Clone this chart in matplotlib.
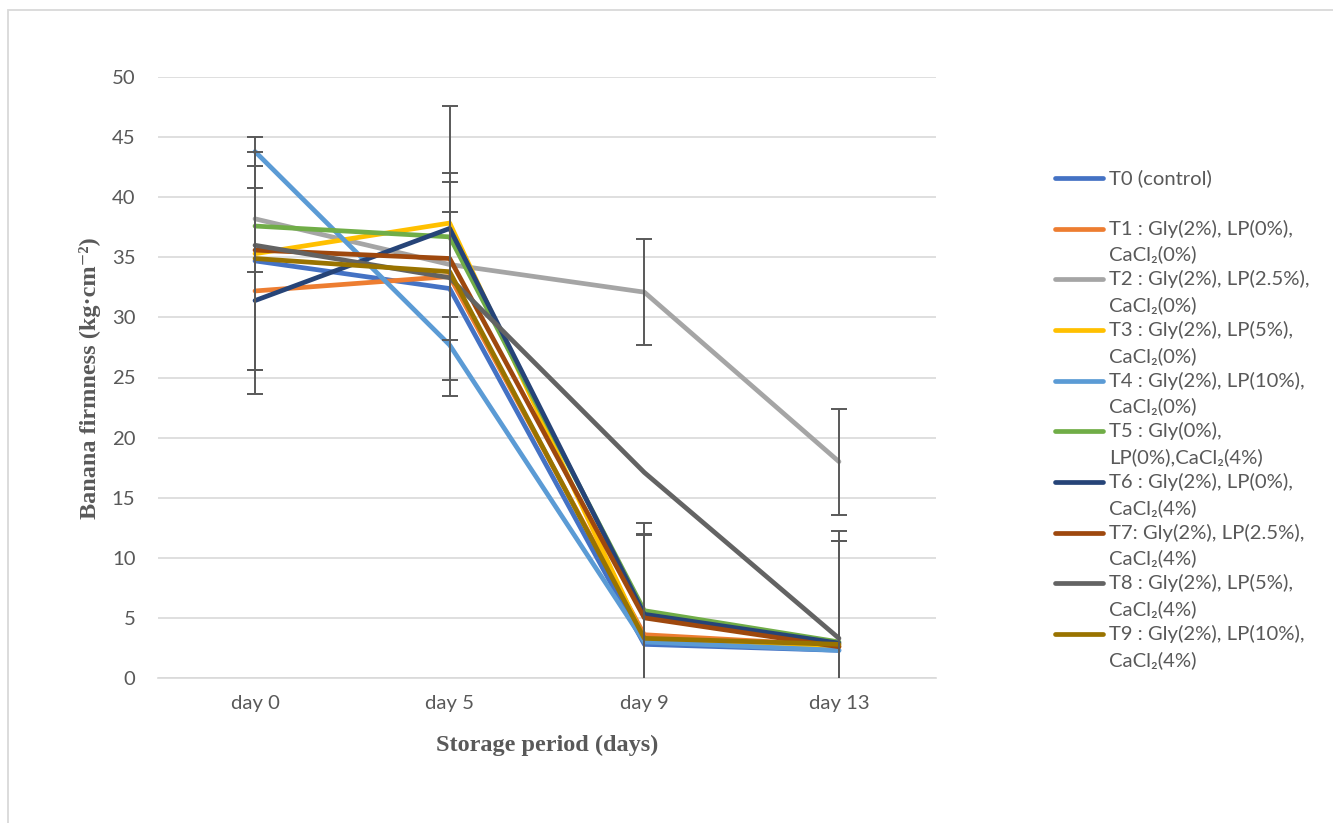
import matplotlib
matplotlib.use("Agg")
import matplotlib.pyplot as plt
from matplotlib.lines import Line2D
from matplotlib.patches import Rectangle

# Storage days and firmness (kg·cm⁻²) per treatment
days = ["day 0", "day 5", "day 9", "day 13"]

t0 = [34.7, 32.4, 2.8, 2.3]
t1 = [32.2, 33.4, 3.6, 2.7]
t2 = [38.2, 34.4, 32.1, 18.0]
t3 = [35.3, 37.85, 3.2, 2.6]
t4 = [43.8, 27.7, 3.0, 2.3]
t5 = [37.6, 36.7, 5.6, 3.0]
t6 = [31.4, 37.4, 5.3, 2.9]
t7 = [35.6, 34.9, 5.0, 2.6]
t8 = [36.0, 33.3, 17.1, 3.3]
t9 = [34.9, 33.8, 3.3, 2.8]

# Error bars (± kg·cm⁻²) reported for selected treatments
err_t0 = [9.1, 8.9, 9.1, 9.1]
err_t1 = [8.6, 8.6, 8.4, 8.7]
err_t2 = [4.4, 4.4, 4.4, 4.4]
err_t3 = [9.7, 9.75, 9.7, 9.6]

labels = [
    "T0 (control)\n",
    "T1 : Gly(2%), LP(0%),\nCaCl₂(0%)",
    "T2 : Gly(2%), LP(2.5%),\nCaCl₂(0%)",
    "T3 : Gly(2%), LP(5%),\nCaCl₂(0%)",
    "T4 : Gly(2%), LP(10%),\nCaCl₂(0%)",
    "T5 : Gly(0%),\nLP(0%),CaCl₂(4%)",
    "T6 : Gly(2%), LP(0%),\nCaCl₂(4%)",
    "T7: Gly(2%), LP(2.5%),\nCaCl₂(4%)",
    "T8 : Gly(2%), LP(5%),\nCaCl₂(4%)",
    "T9 : Gly(2%), LP(10%),\nCaCl₂(4%)",
]

series = [t0, t1, t2, t3, t4, t5, t6, t7, t8, t9]
errors = {0: err_t0, 1: err_t1, 2: err_t2, 3: err_t3}
colors = ["#4472C4", "#ED7D31", "#A5A5A5", "#FFC000", "#5B9BD5",
          "#70AD47", "#264478", "#9E480E", "#636363", "#997300"]

text_gray = "#595959"
sans = ["Lato", "DejaVu Sans"]
serif = ["Liberation Serif", "DejaVu Serif"]
fs_sans = 14.6
fs_title = 17.5

W, H = 1333, 823
fig = plt.figure(figsize=(W / 100, H / 100), dpi=100)

def fx(px):
    return px / W

def fy(py):
    return 1 - py / H

ax = fig.add_axes([fx(157.7), fy(678), fx(936.3) - fx(157.7), fy(77) - fy(678)])

x = list(range(len(days)))
for i, (vals, c) in enumerate(zip(series, colors)):
    ax.plot(x, vals, color=c, lw=3.4, solid_capstyle="round", zorder=3 + i * 0.01)

for i, err in errors.items():
    ax.errorbar(x, series[i], yerr=err, fmt="none", ecolor="#595959",
                elinewidth=1.4, capsize=5.5, capthick=1.4, zorder=5)

ax.set_xlim(-0.5, 3.5)
ax.set_ylim(0, 50)
ax.set_yticks(range(0, 51, 5))
ax.set_xticks(x)
ax.set_xticklabels(days)
ax.yaxis.grid(True, color="#D9D9D9", lw=1.2, zorder=0)
ax.set_axisbelow(True)
for s in ["top", "right", "left"]:
    ax.spines[s].set_visible(False)
ax.spines["bottom"].set_color("#D9D9D9")
ax.spines["bottom"].set_linewidth(1.2)
ax.tick_params(axis="both", length=0, colors=text_gray, labelsize=fs_sans)
ax.tick_params(axis="y", pad=16)
ax.tick_params(axis="x", pad=12)
for lab in ax.get_xticklabels() + ax.get_yticklabels():
    lab.set_family(sans)

fig.text(fx(547), fy(745), "Storage period (days)", ha="center", va="center",
         family=serif, fontweight="bold", fontsize=fs_title, color=text_gray)
fig.text(fx(90), fy(378), "Banana firmness (kg·cm⁻²)", ha="center", va="center",
         rotation=90, family=serif, fontweight="bold", fontsize=fs_title, color=text_gray)

# Legend drawn as two-line entries with the key aligned to the first line
row0, step, line_gap = 178, 50.67, 26
for i, (lab, c) in enumerate(zip(labels, colors)):
    yy = row0 + i * step
    fig.add_artist(Line2D([fx(1055), fx(1103)], [fy(yy), fy(yy)], color=c, lw=3.4,
                          solid_capstyle="round", transform=fig.transFigure))
    first, second = lab.split("\n")
    fig.text(fx(1109), fy(yy), first, ha="left", va="center", family=sans,
             fontsize=fs_sans, color=text_gray)
    if second:
        fig.text(fx(1109), fy(yy + line_gap), second, ha="left", va="center",
                 family=sans, fontsize=fs_sans, color=text_gray)

# Light chart-area frame
fig.add_artist(Rectangle((fx(8), fy(900)), fx(1400), fy(10) - fy(900), fill=False,
                         edgecolor="#D9D9D9", lw=1.3, transform=fig.transFigure))

fig.savefig("out.png", dpi=100, facecolor="white")
